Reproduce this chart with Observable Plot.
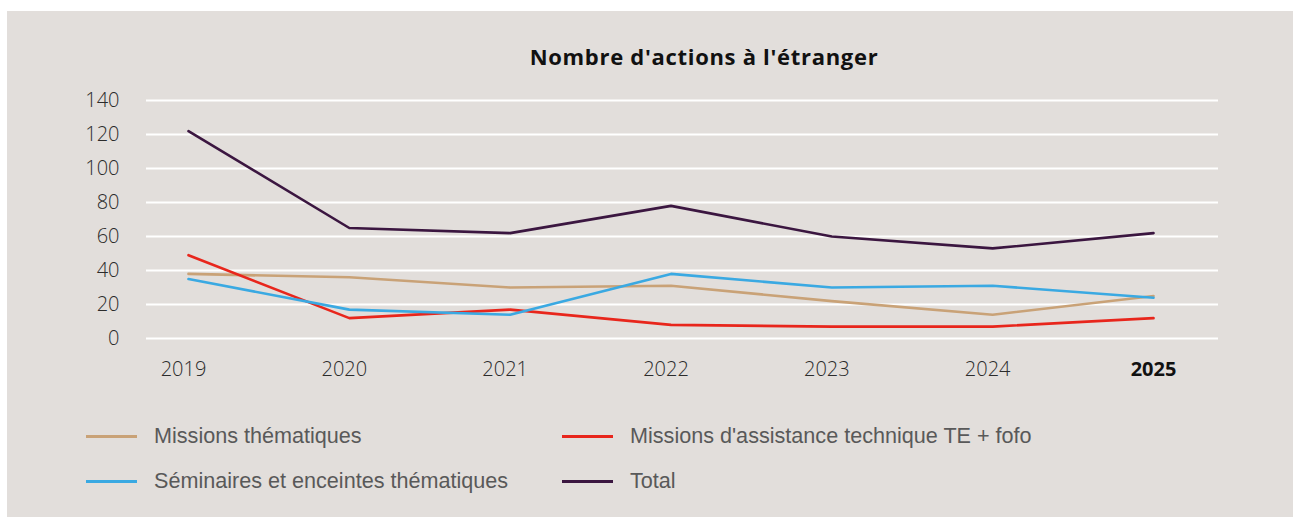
<!DOCTYPE html>
<html><head><meta charset="utf-8">
<script src="https://cdn.jsdelivr.net/npm/d3@7"></script>
<script src="https://cdn.jsdelivr.net/npm/@observablehq/plot@0.6"></script>
<style>
html,body{margin:0;padding:0;background:#fff;}
body{width:1298px;height:517px;overflow:hidden;position:relative;}
#panel{position:absolute;left:7px;top:11px;width:1286px;height:506px;background:#e2dedb;}
#title{position:absolute;left:697px;top:31px;transform:translateX(-50%);white-space:nowrap;font-family:"Open Sans",sans-serif;font-weight:700;font-size:22px;letter-spacing:0.7px;line-height:28px;color:#111;}
#chart{position:absolute;left:0;top:69px;}
#legend{position:absolute;left:79px;top:410px;display:grid;grid-template-columns:476px 476px;row-gap:15px;}
.item{display:flex;align-items:center;height:30px;font-family:"Liberation Sans Narrow","Liberation Sans",sans-serif;font-size:21.6px;color:#595959;white-space:nowrap;}
.sw{width:51px;height:3px;margin-right:17px;flex:none;}
</style>
</head><body>
<div id="panel">
  <div id="title"></div>
  <div id="chart"></div>
  <div id="legend"></div>
</div>
<script>
const title = "Nombre d'actions à l'étranger";
const years = [2019, 2020, 2021, 2022, 2023, 2024, 2025];
const seriesNames = ["Missions thématiques", "Missions d'assistance technique TE + fofo", "Séminaires et enceintes thématiques", "Total"];
const missionsThematiques = [38, 36, 30, 31, 22, 14, 25];
const missionsAssistance = [49, 12, 17, 8, 7, 7, 12];
const seminaires = [35, 17, 14, 38, 30, 31, 24];
const total = [122, 65, 62, 78, 60, 53, 62];
const yTicks = [0, 20, 40, 60, 80, 100, 120, 140];
const colors = ["#c9a277", "#e8261c", "#3aa9e2", "#3b1640"];

const seriesValues = [missionsThematiques, missionsAssistance, seminaires, total];
const rows = seriesNames.flatMap((name, k) => years.map((year, i) => ({year, value: seriesValues[k][i], series: name})));

document.getElementById("title").textContent = title;

const chart = Plot.plot({
  width: 1286,
  height: 310,
  marginLeft: 139,
  marginRight: 75,
  marginTop: 20,
  marginBottom: 52,
  style: {background: "transparent", fontFamily: "'Open Sans', sans-serif", fontSize: "20px", color: "#2b2b2b"},
  x: {domain: [2018.739, 2025.404]},
  y: {domain: [0, 140]},
  color: {domain: seriesNames, range: colors},
  marks: [
    Plot.gridY(yTicks, {stroke: "#ffffff", strokeOpacity: 1, strokeWidth: 2}),
    Plot.axisY(yTicks, {tickSize: 0, tickPadding: 27, label: null, fontWeight: 300}),
    Plot.axisX(years.slice(0, -1), {tickSize: 0, tickPadding: 23, label: null, tickFormat: d => String(d), fontWeight: 300, dx: -5}),
    Plot.axisX(years.slice(-1), {tickSize: 0, tickPadding: 23, label: null, tickFormat: d => String(d), fontWeight: 700, fill: "#111"}),
    Plot.line(rows, {x: "year", y: "value", z: "series", stroke: "series", strokeWidth: 2.6, curve: "linear"})
  ]
});
document.getElementById("chart").appendChild(chart);

const legend = document.getElementById("legend");
[0, 1, 2, 3].forEach(k => {
  const it = document.createElement("div");
  it.className = "item";
  const sw = document.createElement("span");
  sw.className = "sw";
  sw.style.background = colors[k];
  const tx = document.createElement("span");
  tx.textContent = seriesNames[k];
  it.appendChild(sw); it.appendChild(tx);
  legend.appendChild(it);
});
</script>
</body></html>
